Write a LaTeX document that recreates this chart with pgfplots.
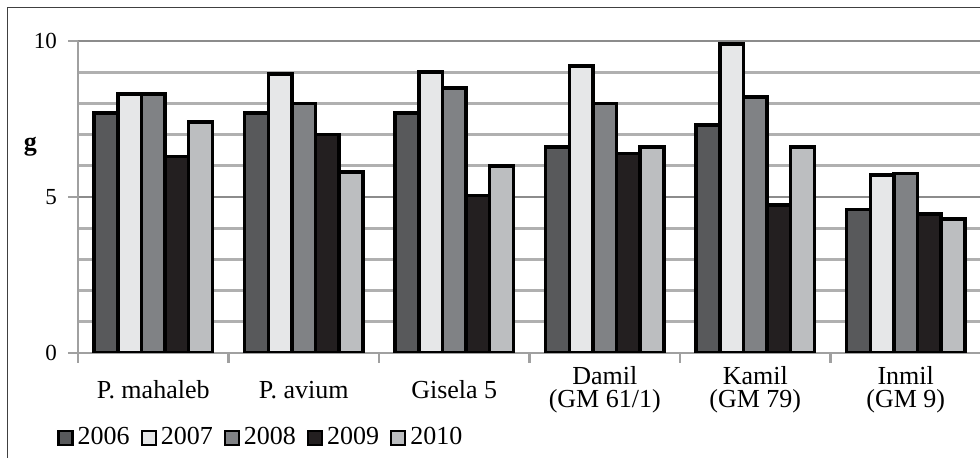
\documentclass[border=0pt]{standalone}
\usepackage{fontspec}
\setmainfont{Liberation Serif}
\usepackage{pgfplots}
\pgfplotsset{compat=1.18}
\definecolor{c6}{HTML}{58595B}
\definecolor{c7}{HTML}{E6E7E8}
\definecolor{c8}{HTML}{808285}
\definecolor{c9}{HTML}{231F20}
\definecolor{c10}{HTML}{BCBEC0}
\definecolor{gridc}{HTML}{B0B0B0}
\definecolor{gridm}{HTML}{8C8C8C}
\definecolor{axc}{HTML}{A0A0A0}
\begin{document}
\begin{tikzpicture}[x=1pt,y=1pt]
\useasboundingbox (0,0) rectangle (490,229);
\draw[color=black!75, line width=0.8pt] (3.75,-10) rectangle (500,225.25);
\node[font=\fontsize{13}{15}\selectfont\bfseries] at (15.25,155.5) {g};
\begin{axis}[
  at={(39pt,52.5pt)}, anchor=south west, scale only axis,
  width=451.5pt, height=156pt,
  ybar=0pt, bar width=0.157,
  xmin=-0.5, xmax=5.5, ymin=0, ymax=10,
  axis lines*=left,
  axis line style={-, color=axc, line width=1.3pt},
  ytick={0,5,10}, minor ytick={1,2,3,4,6,7,8,9},
  ymajorgrids, yminorgrids,
  major grid style={gridm, line width=1.4pt},
  minor grid style={gridc, line width=1.4pt},
  minor y tick style={draw=none},
  xtick={0,1,2,3,4,5},
  xticklabels={P. mahaleb, P. avium, Gisela 5, {Damil\\(GM 61/1)}, {Kamil\\(GM 79)}, {Inmil\\(GM 9)}},
  xticklabel style={align=center, font=\fontsize{13}{11.5}\selectfont, anchor=center, yshift=-13.5pt},
  major x tick style={draw=none},
  minor xtick={-0.5,0.5,1.5,2.5,3.5,4.5,5.5},
  tick align=outside, major tick length=5pt, minor tick length=5pt,
  tick style={color=axc, line width=1.3pt},
  yticklabel style={font=\fontsize{11.5}{13}\selectfont, xshift=-2pt},
  /pgf/number format/assume math mode=true,
  legend columns=-1,
  legend style={at={(-0.0233,-0.272)}, anchor=west, draw=none, fill=none, inner sep=0pt,
    font=\fontsize{13}{15}\selectfont,
    /tikz/every even column/.append style={column sep=3.5pt}},
  legend image code/.code={\draw[#1, line width=1.1pt] (0pt,-3.5pt) rectangle (7pt,3.5pt);},
  every axis plot/.append style={draw=black, line width=1.8pt},
]
\addplot[fill=c6] coordinates {(0,7.7) (1,7.7) (2,7.7) (3,6.6) (4,7.3) (5,4.6)};
\addplot[fill=c7] coordinates {(0,8.3) (1,8.95) (2,9.0) (3,9.2) (4,9.9) (5,5.7)};
\addplot[fill=c8] coordinates {(0,8.3) (1,8.0) (2,8.5) (3,8.0) (4,8.2) (5,5.75)};
\addplot[fill=c9] coordinates {(0,6.3) (1,7.0) (2,5.05) (3,6.4) (4,4.75) (5,4.45)};
\addplot[fill=c10] coordinates {(0,7.4) (1,5.8) (2,6.0) (3,6.6) (4,6.6) (5,4.3)};
\legend{2006,2007,2008,2009,2010}
\end{axis}
\end{tikzpicture}
\end{document}
